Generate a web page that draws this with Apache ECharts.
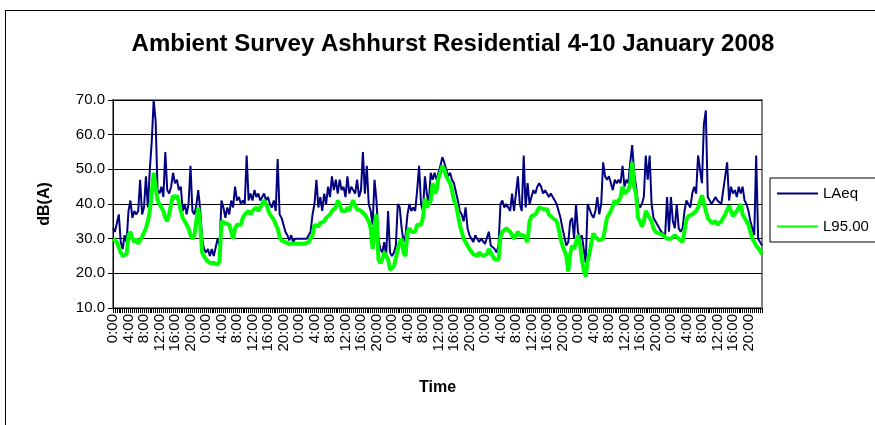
<!DOCTYPE html>
<html>
<head>
<meta charset="utf-8">
<title>Ambient Survey Ashhurst Residential</title>
<script src="https://cdn.jsdelivr.net/npm/echarts@6/dist/echarts.min.js"></script>
<style>
  html, body { margin: 0; padding: 0; background: #fff; overflow: hidden; }
  .wrap { position: relative; width: 875px; height: 425px; overflow: hidden; }
  /* Excel chart area border, runs off the right and bottom edges */
  .frame { position: absolute; left: 5px; top: 10px; width: 1000px; height: 600px; border: 1px solid #000; box-sizing: border-box; }
  #chart { position: absolute; left: 0; top: 0; width: 875px; height: 425px; }
</style>
</head>
<body>
<div class="wrap">
  <div class="frame"></div>
  <div id="chart"></div>
</div>
<script>
  // half-hourly readings, 4-10 January 2008
  const laeq = [
    // day 1
    33, 32, 32, 37, 29, 27, 31, 29, 38, 41, 36, 38, 37, 38, 47, 37,
    39, 48, 39, 50, 58, 70, 64, 44, 43, 45, 42, 55, 44, 43, 45, 49,
    46, 47, 44, 45, 38, 40, 37, 40, 51, 38, 37, 39.5, 44, 38.5, 30, 27,
    // day 2
    26, 27, 25, 27, 25, 24.5, 30, 28, 41, 39, 36, 39, 37, 41, 39, 45,
    41, 42, 40, 41, 40, 54, 41, 43, 41, 44, 42, 43, 41, 40.5, 43, 41,
    42, 40, 39, 41, 38, 53, 37, 36, 34, 32, 31, 29.5, 31, 29, 30, 29.5,
    // day 3
    30, 29.5, 30, 29.5, 30, 30.5, 32, 37, 40, 47, 39, 42, 38, 43, 40, 45,
    42, 48, 44, 47, 43, 47, 44, 45, 42, 48, 43, 45, 44, 43, 47, 42,
    44, 55, 43, 51, 40, 38, 34, 47, 41, 30, 27, 26, 29, 25, 38, 26,
    // day 4
    25, 26, 28, 40, 39, 33, 29, 31, 37, 40, 38, 39, 38, 44, 51, 40,
    38, 48, 43, 40, 49, 47, 49, 47, 49, 51, 53.5, 52, 50, 48, 49, 47,
    46, 46, 41, 38, 37, 35, 39, 33, 31, 30, 29, 31, 30, 29, 30, 29.5,
    // day 5
    28.5, 28, 32, 28, 28, 27, 26, 28, 40, 41, 39, 40, 39, 38, 43, 38,
    37.5, 48, 40, 38, 54, 39, 46, 40, 42, 44, 43, 45, 46, 45, 43, 44,
    43, 42, 43, 42, 41, 40, 40, 36, 33, 33, 28, 29, 35, 36, 30, 40,
    // day 6
    32, 30, 31, 27, 23, 40, 40, 37, 36, 38, 42, 37, 40, 52, 48, 47,
    48, 46, 44, 47, 46, 47, 46, 51, 45, 47, 46, 52, 57, 49, 45, 40,
    39, 40, 42, 54, 47, 54, 40, 36, 35, 34, 33, 32, 31.5, 31, 42, 32,
    // day 7
    42, 35, 33, 40, 33, 32, 33, 38, 41, 41, 39, 43, 45, 43, 54, 50,
    46, 63, 67, 42, 41, 40, 41, 42, 41, 41, 40, 44, 48, 52, 41, 45,
    43, 44, 42, 45, 43, 45, 41, 40, 38, 35, 33, 31, 54, 30, 29, 28
  ]

  const l95 = [
    // day 1
    30, 29.5, 29, 28.5, 26, 25, 25, 25.5, 31, 32, 30, 29, 30, 28.5, 29, 30.5,
    31, 33, 35, 38, 43, 49, 45, 41, 40, 39, 38, 36, 35, 37, 40, 42.5,
    41.5, 42.5, 40.5, 38, 36, 35, 34, 33, 31, 30, 31, 35, 39, 34, 26, 25,
    // day 2
    24, 23.5, 23, 23, 23, 22.5, 22.5, 23.5, 35, 35, 34.5, 34, 34, 34, 30, 33,
    34, 34, 34, 36, 37, 37, 38, 37, 38, 38.5, 39, 38, 39, 40, 41, 40,
    38.5, 37, 36.5, 35.5, 34, 33, 30.5, 29.5, 29, 29, 28.5, 28.5, 28.5, 28.5, 28.5, 28.5,
    // day 3
    28.5, 28.5, 28.5, 28.5, 28.5, 29, 29.5, 31, 34, 34.5, 33.5, 34.5, 35, 35, 36, 36,
    37, 38, 38.5, 39, 41, 40, 38, 37.5, 38, 39, 38, 40, 41, 39.5, 38.5, 38,
    38, 38, 37, 36, 35, 33, 27, 34, 37, 24, 23, 24, 26, 26, 24, 21,
    // day 4
    20.5, 22, 24.5, 25, 29, 30, 26, 25, 32, 33, 32, 31.5, 32, 34, 34.5, 34,
    36, 41.5, 39, 39.5, 41, 46, 43, 44, 47.5, 49, 51, 50, 48, 47, 46, 44,
    41, 40, 37, 34, 32, 30, 29.5, 28, 27, 27, 25.5, 25, 25, 26, 25.5, 25,
    // day 5
    25, 25.5, 27, 26.5, 25, 24, 23.5, 24, 30.5, 32, 32, 33, 33, 32, 31, 30,
    30, 32, 31, 31, 31, 31, 29, 35, 36.5, 37, 37, 37.5, 39, 39, 38.5, 39,
    38.5, 37, 36.5, 36, 35.5, 35, 33, 30, 28, 26.5, 25, 20.5, 25.5, 28, 27, 29,
    // day 6
    31, 28.5, 24, 21, 19, 23.5, 26, 29, 31.5, 30.5, 30, 29.5, 30, 30, 33, 36,
    37, 38, 39.5, 41, 40, 41, 42, 45, 43, 43, 44, 46, 52, 45, 43, 36,
    35, 33.5, 35, 38, 37.5, 36, 35, 33, 32, 32, 31.5, 31, 31, 30.5, 30, 30,
    // day 7
    30, 30, 31, 30.5, 30, 29.5, 29, 29, 35.5, 36.5, 36.5, 37, 37, 38, 39, 39,
    42.5, 42, 38, 36, 35.5, 34.5, 35, 35, 34, 34.5, 35, 36, 37, 37, 39.5, 38,
    36.5, 37, 38, 39, 40, 37, 36, 36, 34, 32, 30, 29, 28, 27.5, 26.5, 25.5
  ]

  const days = 7
  const slotsPerDay = 48
  const yTicks = [10, 20, 30, 40, 50, 60, 70]

  // time of day for every half-hour slot
  const times = []
  for (let d = 0; d < days; d++) {
    for (let s = 0; s < slotsPerDay; s++) {
      times.push(Math.floor(s / 2) + ':' + (s % 2 ? '30' : '00'))
    }
  }

  const font = '"Liberation Sans", Arial, sans-serif'
  const myChart = echarts.init(document.getElementById('chart'), null, { renderer: 'canvas' })

  myChart.setOption({
    animation: false,
    backgroundColor: 'transparent',
    title: {
      text: 'Ambient Survey Ashhurst Residential 4-10 January 2008',
      left: 448,
      top: 27,
      textAlign: 'center',
      textStyle: { fontFamily: font, fontSize: 24, fontWeight: 'bold', color: '#000' }
    },
    legend: {
      orient: 'vertical',
      left: 770,
      top: 178,
      padding: [8, 40, 8, 6],
      borderColor: '#000',
      borderWidth: 1,
      itemWidth: 41,
      itemHeight: 14,
      itemGap: 18,
      textStyle: { fontFamily: font, fontSize: 15, color: '#000' },
      // line only, no marker on the legend sample
      data: [
        { name: 'LAeq', itemStyle: { opacity: 0 } },
        { name: 'L95.00', itemStyle: { opacity: 0 } }
      ]
    },
    grid: {
      left: 113,
      right: 113,
      top: 100,
      bottom: 117,
      show: true,
      borderColor: '#808080',
      borderWidth: 2,
      backgroundColor: '#fff'
    },
    xAxis: {
      type: 'category',
      boundaryGap: false,
      data: times,
      name: 'Time',
      nameLocation: 'middle',
      nameGap: 72,
      nameTextStyle: { fontFamily: font, fontSize: 16, fontWeight: 'bold', color: '#000' },
      axisLine: { lineStyle: { color: '#000', width: 1 } },
      axisTick: { show: true, interval: 0, length: 5, lineStyle: { color: '#000' } },
      axisLabel: {
        interval: 7,
        rotate: 90,
        margin: 6,
        fontFamily: font,
        fontSize: 15,
        color: '#000'
      },
      splitLine: { show: false }
    },
    yAxis: {
      type: 'value',
      min: yTicks[0],
      max: yTicks[yTicks.length - 1],
      interval: 10,
      name: 'dB(A)',
      nameLocation: 'middle',
      nameRotate: 90,
      nameGap: 60,
      nameTextStyle: { fontFamily: font, fontSize: 16, fontWeight: 'bold', color: '#000' },
      axisLine: { show: true, lineStyle: { color: '#000', width: 1 } },
      axisTick: { show: true, length: 5, lineStyle: { color: '#000' } },
      axisLabel: {
        margin: 8,
        fontFamily: font,
        fontSize: 15,
        color: '#000',
        formatter: (v) => v.toFixed(1)
      },
      splitLine: { lineStyle: { color: '#000', width: 1 } }
    },
    series: [
      {
        name: 'LAeq',
        type: 'line',
        data: laeq,
        symbol: 'none',
        lineStyle: { color: '#000080', width: 2 },
        itemStyle: { color: '#000080' }
      },
      {
        name: 'L95.00',
        type: 'line',
        data: l95,
        symbol: 'none',
        lineStyle: { color: '#00ff00', width: 4 },
        itemStyle: { color: '#00ff00' }
      }
    ]
  })
</script>
</body>
</html>
